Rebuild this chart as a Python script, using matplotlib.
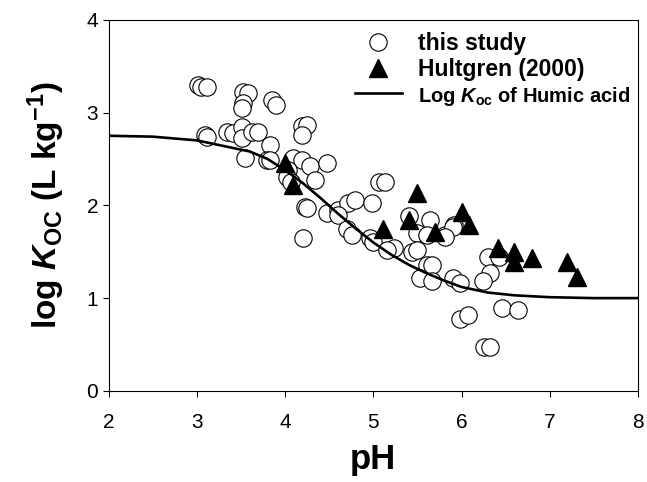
import numpy as np
import matplotlib
matplotlib.use('Agg')
import matplotlib.pyplot as plt

plt.rcParams['font.family'] = ['Liberation Sans', 'DejaVu Sans']
plt.rcParams['mathtext.fontset'] = 'custom'
plt.rcParams['mathtext.rm'] = 'Liberation Sans:bold'
plt.rcParams['mathtext.it'] = 'Liberation Sans:italic:bold'
plt.rcParams['mathtext.bf'] = 'Liberation Sans:bold'

# this study (pH, log Koc)
study_ph = [3.01, 3.05, 3.12, 3.52, 3.58, 3.52, 3.51, 3.85, 3.90, 4.19, 4.25, 4.19,
            3.09, 3.12, 3.34, 3.41, 3.51, 3.51, 3.62, 3.69, 3.83, 3.54, 3.79, 3.83,
            4.09, 4.19, 4.28, 4.03, 4.02, 4.07, 4.22, 4.25, 4.20, 4.34, 4.48, 5.07,
            5.13, 4.47, 4.60, 4.71, 4.79, 4.98, 4.60, 4.70, 4.76, 4.96, 5.00, 5.24,
            5.15, 5.41, 5.64, 5.49, 5.61, 5.81, 5.44, 5.50, 5.61, 5.67, 5.53, 5.66,
            5.90, 5.98, 5.98, 6.07, 5.92, 5.90, 5.81, 6.30, 6.43, 6.32, 6.24, 6.46,
            6.64, 6.26, 6.32]
study_koc = [3.30, 3.27, 3.27, 3.22, 3.21, 3.10, 3.05, 3.14, 3.08, 2.85, 2.87, 2.76,
             2.76, 2.74, 2.79, 2.78, 2.84, 2.73, 2.79, 2.79, 2.65, 2.51, 2.49, 2.49,
             2.51, 2.49, 2.42, 2.38, 2.30, 2.25, 1.98, 1.97, 1.65, 2.27, 2.46, 2.25,
             2.25, 1.92, 1.95, 2.03, 2.06, 2.03, 1.90, 1.74, 1.68, 1.65, 1.61, 1.54,
             1.52, 1.88, 1.84, 1.70, 1.68, 1.68, 1.50, 1.52, 1.36, 1.36, 1.22, 1.18,
             1.22, 1.16, 0.77, 0.82, 1.79, 1.77, 1.66, 1.44, 1.44, 1.27, 1.18, 0.89,
             0.87, 0.47, 0.47]

# Hultgren (2000)
hult_ph = [4.00, 4.09, 5.11, 5.41, 5.50, 5.70, 6.00, 6.09, 6.41, 6.60, 6.60, 6.80, 7.20, 7.31]
hult_koc = [2.46, 2.22, 1.74, 1.84, 2.13, 1.71, 1.93, 1.79, 1.54, 1.50, 1.39, 1.43, 1.39, 1.23]

# humic acid curve
humic_ph = [2.0, 2.5, 3.0, 3.3, 3.6, 3.8, 4.0, 4.2, 4.4, 4.6, 4.8, 5.0, 5.2, 5.4,
            5.6, 5.8, 6.0, 6.3, 6.6, 7.0, 7.5, 8.0]
humic_koc = [2.75, 2.74, 2.70, 2.64, 2.58, 2.50, 2.38, 2.24, 2.08, 1.91, 1.75, 1.60,
             1.47, 1.36, 1.27, 1.19, 1.12, 1.06, 1.03, 1.01, 1.00, 1.00]

fig = plt.figure(figsize=(6.47, 4.82), dpi=100)
ax = fig.add_axes([0.168, 0.189, 0.818, 0.770])

ax.plot(study_ph, study_koc, 'o', ms=12.5, mfc='white', mec='black', mew=0.8,
        label='this study', zorder=2)
ax.plot(humic_ph, humic_koc, '-', color='black', lw=1.9,
        label=r'Log $K_{\rm oc}$ of Humic acid', zorder=3)
ax.plot(hult_ph, hult_koc, '^', ms=13, color='black', label='Hultgren (2000)', zorder=4)

ax.set_xlim(2, 8)
ax.set_ylim(0, 4)
ax.set_xticks([2, 3, 4, 5, 6, 7, 8])
ax.set_yticks([0, 1, 2, 3, 4])
ax.tick_params(direction='out', length=4, width=0.8, labelsize=15)
ax.tick_params(axis='x', pad=12)
for s in ax.spines.values():
    s.set_linewidth(0.8)

ax.set_xlabel('pH', fontsize=25, fontweight='bold', labelpad=8)
ax.set_ylabel(r'log $K_{\rm OC}$ (L kg$^{-1}$)', fontsize=24, fontweight='bold', labelpad=14)

h, l = ax.get_legend_handles_labels()
order = [0, 2, 1]
leg = ax.legend([h[i] for i in order], [l[i] for i in order], loc='upper left',
                bbox_to_anchor=(0.465, 0.968), frameon=False, borderpad=0,
                borderaxespad=0, handlelength=2.05, handletextpad=0.7,
                labelspacing=0.15, prop={'weight': 'bold', 'size': 16.5})
leg.get_texts()[2].set_fontsize(14.5)

fig.savefig('out.png', dpi=100)
